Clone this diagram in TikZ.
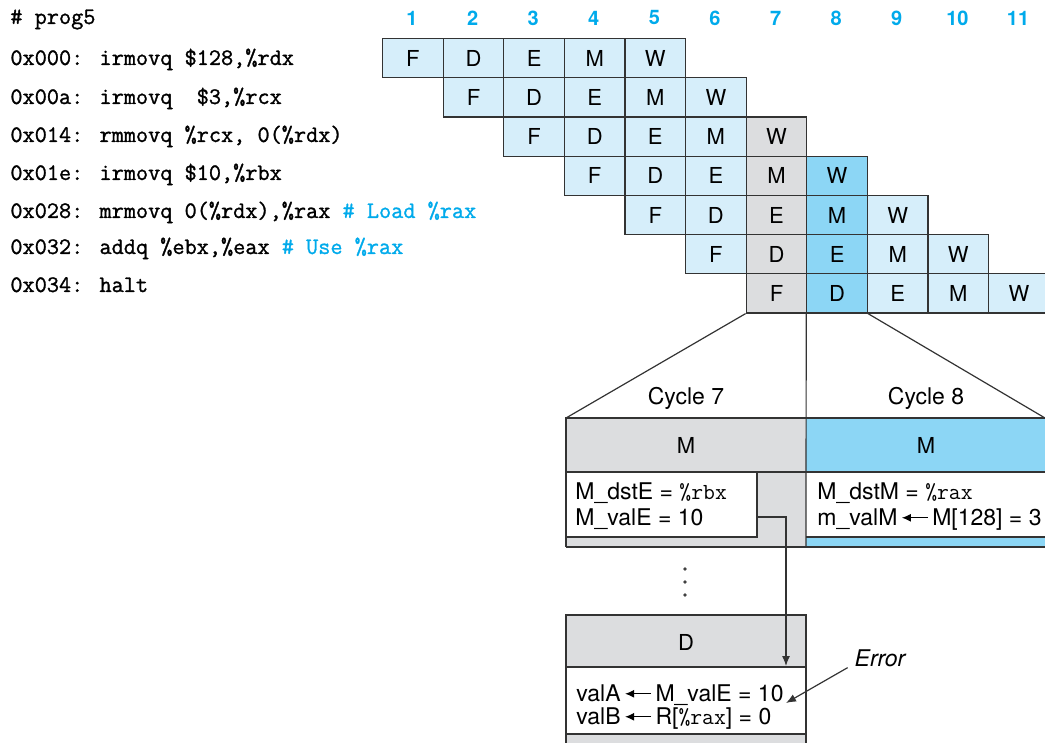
\documentclass[tikz,border=0pt]{standalone}
\usepackage{fontspec}
\setsansfont{TeX Gyre Heros}
\newfontfamily\codefont[FakeBold=1.2]{Latin Modern Mono}
\usetikzlibrary{arrows.meta}
\definecolor{paleblue}{RGB}{214,238,250}
\definecolor{hotblue}{RGB}{140,214,245}
\definecolor{stallgray}{RGB}{220,221,223}
\definecolor{cyclecyan}{RGB}{0,170,235}
\newcommand{\getsarrow}{\,\tikz[baseline=-0.6ex,x=1pt,y=1pt]\draw[line width=0.6pt,-{Latex[length=4.5pt,width=4pt]}] (13,0) -- (0,0);\,}
\begin{document}
\begin{tikzpicture}[x=0.5pt,y=-0.5pt,
    every node/.style={font=\sffamily\fontsize{11pt}{13pt}\selectfont},
    cell/.style={draw=black!80, line width=0.6pt, minimum width=30.3pt, minimum height=19.6pt, inner sep=0pt, anchor=north west},
    cyclenum/.style={text=cyclecyan, font=\sffamily\bfseries\fontsize{10pt}{12pt}\selectfont},
    code/.style={anchor=base west, inner sep=0pt, font=\codefont\fontsize{11.8pt}{14pt}\selectfont},
    boxtext/.style={anchor=base west, inner sep=0pt, font=\sffamily\fontsize{11.5pt}{13pt}\selectfont},
    boxline/.style={draw=black!80, line width=0.6pt},
    fwdarrow/.style={draw=black!80, line width=0.6pt, -{Latex[length=5pt,width=4pt]}}]
	\useasboundingbox (0,0) rectangle (1045,743);
	
	% program listing
	\node[code] (l0) at (10,24) {\# prog5};
	\node[code] (l1) at (10,65) {0x000: irmovq \$128,\%rdx};
	\node[code] (l2) at (10,104) {0x00a: irmovq\ \ \$3,\%rcx};
	\node[code] (l3) at (10,142) {0x014: rmmovq \%rcx, 0(\%rdx)};
	\node[code] (l4) at (10,180) {0x01e: irmovq \$10,\%rbx};
	\node[code] (l5) at (10,218) {0x028: mrmovq 0(\%rdx),\%rax {\color{cyclecyan}\# Load \%rax}};
	\node[code] (l6) at (10,254) {0x032: addq \%ebx,\%eax {\color{cyclecyan}\# Use \%rax}};
	\node[code] (l7) at (10,292) {0x034: halt};
	
	% cycle numbers
	\foreach \k in {1,...,11}
		\node[cyclenum] (t\k) at ({412+(\k-1)*60.6},18) {\k};
	
	% pipeline diagram
	\foreach \r in {1,...,7}{
		\foreach \s [count=\j from 0] in {F,D,E,M,W}{
			\pgfmathtruncatemacro{\k}{\r+\j}
			\ifnum\k=7 \def\cellfill{stallgray}\else\ifnum\k=8 \def\cellfill{hotblue}\else\def\cellfill{paleblue}\fi\fi
			\node[cell, fill=\cellfill] (s-\r-\k) at ({382+(\k-1)*60.6},{38+(\r-1)*39.2}) {\s};
		}
	}
	
	% zoom onto cycles 7 and 8
	\coordinate (c7nw) at (566,418);
	\coordinate (c8ne) at (1045,418);
	\fill[stallgray] (566,418) rectangle (806,547);
	\fill[hotblue] (806,418) rectangle (1048,472);
	\fill[hotblue] (806,537) rectangle (1048,547);
	\draw[boxline] (s-7-7.south west) -- (c7nw);
	\draw[boxline] (s-7-8.south east) -- (c8ne);
	\draw[boxline] (s-7-8.south west) -- (806,547);
	\draw[boxline] (566,547) -- (c7nw) -- (1048,418);
	\draw[boxline] (566,472) -- (1048,472);
	\draw[boxline] (566,547) -- (1048,547);
	\draw[boxline] (806,537) -- (1048,537);
	\draw[boxline, fill=white] (566,472) rectangle (757,537);
	
	\node[font=\sffamily\fontsize{11.5pt}{13pt}\selectfont] (cyc7) at (686,398) {Cycle 7};
	\node[font=\sffamily\fontsize{11.5pt}{13pt}\selectfont] (cyc8) at (926,398) {Cycle 8};
	\node (mstage7) at (686,445) {M};
	\node (mstage8) at (926,445) {M};
	\node[boxtext] (dstE7) at (575,499) {M\_dstE = {\ttfamily\%rbx}};
	\node[boxtext] (valE7) at (575,525) {M\_valE = 10};
	\node[boxtext] (dstM8) at (817,499) {M\_dstM = {\ttfamily\%rax}};
	\node[boxtext] (valM8) at (817,525) {m\_valM\getsarrow M[128] = 3};
	
	% dots
	\foreach \yy in {569,582,595}
		\fill[black!75] (685,\yy) circle (0.9pt);
	
	% decode stage
	\fill[stallgray] (566,615) rectangle (806,667);
	\fill[stallgray] (566,734) rectangle (806,750);
	\draw[boxline] (566,750) -- (566,615) -- (806,615) -- (806,750);
	\draw[boxline] (566,667) -- (806,667);
	\draw[boxline] (566,734) -- (806,734);
	\node (dstage) at (686,642) {D};
	\node[boxtext] (valA) at (576,701) {valA\getsarrow M\_valE = 10};
	\node[boxtext] (valB) at (576,724) {valB\getsarrow R[{\ttfamily\%rax}] = 0};
	
	% forwarding path and error
	\coordinate (fwdsrc) at (757,517);
	\coordinate (fwddst) at (786,666);
	\draw[fwdarrow] (fwdsrc) -| (fwddst);
	\node[font=\sffamily\itshape\fontsize{11.5pt}{13pt}\selectfont] (err) at (880,658) {Error};
	\coordinate (errtip) at (786,703);
	\draw[fwdarrow] ([yshift=3pt]err.south west) -- (errtip);
\end{tikzpicture}
\end{document}
